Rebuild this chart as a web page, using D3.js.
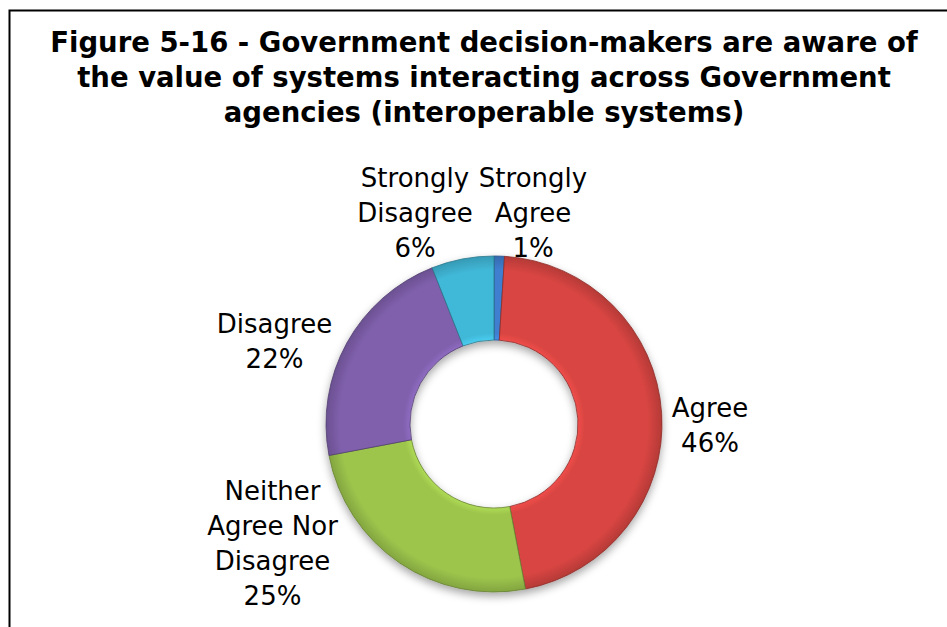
<!DOCTYPE html>
<html>
<head>
<meta charset="utf-8">
<script src="https://cdn.jsdelivr.net/npm/d3@7"></script>
<style>
  html, body { margin: 0; padding: 0; background: #fff; }
  svg { display: block; }
</style>
</head>
<body>
<svg id="chart" width="947" height="627"></svg>
<script>
// ---- data ----
const titleLines = [
  "Figure 5-16 - Government decision-makers are aware of",
  "the value of systems interacting across Government",
  "agencies (interoperable systems)"
];
const categories = ["Strongly Agree", "Agree", "Neither Agree Nor Disagree", "Disagree", "Strongly Disagree"];
const values = [1, 46, 25, 22, 6];
const labelLines = [
  ["Strongly", "Agree"],
  ["Agree"],
  ["Neither", "Agree Nor", "Disagree"],
  ["Disagree"],
  ["Strongly", "Disagree"]
];
const colors = ["#3f7fd0", "#d84542", "#9dc54c", "#8060ad", "#41b8d8"];

// ---- layout (not data) ----
const W = 947, H = 627;
const cx = 494, cy = 424, outerR = 168, innerR = 84;
const labelOffsets = [[39, -211.5], [216, 1], [-221.5, 119], [-219.5, -83], [-79, -211.5]];
const lineH = 35;

const svg = d3.select("#chart");
const defs = svg.append("defs");

// frame
svg.append("path")
  .attr("d", `M9.5,${H + 5} L9.5,10.5 L${W + 5},10.5`)
  .attr("fill", "none").attr("stroke", "#000").attr("stroke-width", 2);

// title
svg.append("text")
  .attr("x", 484).attr("y", 52)
  .attr("text-anchor", "middle")
  .attr("font-family", "'DejaVu Sans', sans-serif")
  .attr("font-weight", "bold")
  .attr("font-size", 27.5)
  .attr("fill", "#000")
  .selectAll("tspan").data(titleLines).join("tspan")
  .attr("x", 484).attr("dy", (d, i) => i === 0 ? 0 : 35)
  .text(d => d);

// shadow filter
const f = defs.append("filter").attr("id", "shadow")
  .attr("x", "-20%").attr("y", "-20%").attr("width", "140%").attr("height", "140%");
f.append("feDropShadow").attr("dx", 0).attr("dy", 4).attr("stdDeviation", 4)
  .attr("flood-color", "#000").attr("flood-opacity", 0.35);

// gradients per slice (bevel look), in the pie group's coordinate space
colors.forEach((c, i) => {
  const base = d3.color(c);
  const g = defs.append("radialGradient").attr("id", "g" + i)
    .attr("gradientUnits", "userSpaceOnUse")
    .attr("cx", 0).attr("cy", 0).attr("r", outerR);
  const stops = [
    [innerR / outerR, base.brighter(0.3)],
    [(innerR + 7) / outerR, base],
    [(outerR - 14) / outerR, base],
    [1, base.darker(0.5)]
  ];
  stops.forEach(([o, col]) => g.append("stop").attr("offset", o).attr("stop-color", col.formatHex()));
});

const pie = d3.pie().sort(null).value(d => d);
const arcs = pie(values);
const arc = d3.arc().innerRadius(innerR).outerRadius(outerR);

const gPie = svg.append("g")
  .attr("transform", `translate(${cx},${cy})`)
  .attr("filter", "url(#shadow)");

gPie.selectAll("path.slice").data(arcs).join("path")
  .attr("class", "slice")
  .attr("d", arc)
  .attr("fill", (d, i) => `url(#g${i})`)
  .attr("stroke", (d, i) => d3.color(colors[i]).darker(1.2).formatHex())
  .attr("stroke-width", 0.8)
  .attr("stroke-linejoin", "round");

// labels
const total = d3.sum(values);
const lg = svg.append("g")
  .attr("font-family", "'DejaVu Sans', sans-serif")
  .attr("font-size", 26)
  .attr("fill", "#000")
  .attr("text-anchor", "middle");

arcs.forEach((a, i) => {
  const lines = labelLines[i].concat([Math.round(values[i] / total * 100) + "%"]);
  const [dx, dy] = labelOffsets[i];
  const x = cx + dx;
  const firstBase = cy + dy - (lines.length - 1) * lineH / 2 + 9.5;
  const t = lg.append("text").attr("x", x).attr("y", firstBase);
  t.selectAll("tspan").data(lines).join("tspan")
    .attr("x", x).attr("dy", (d, j) => j === 0 ? 0 : lineH)
    .text(d => d);
});
</script>
</body>
</html>
